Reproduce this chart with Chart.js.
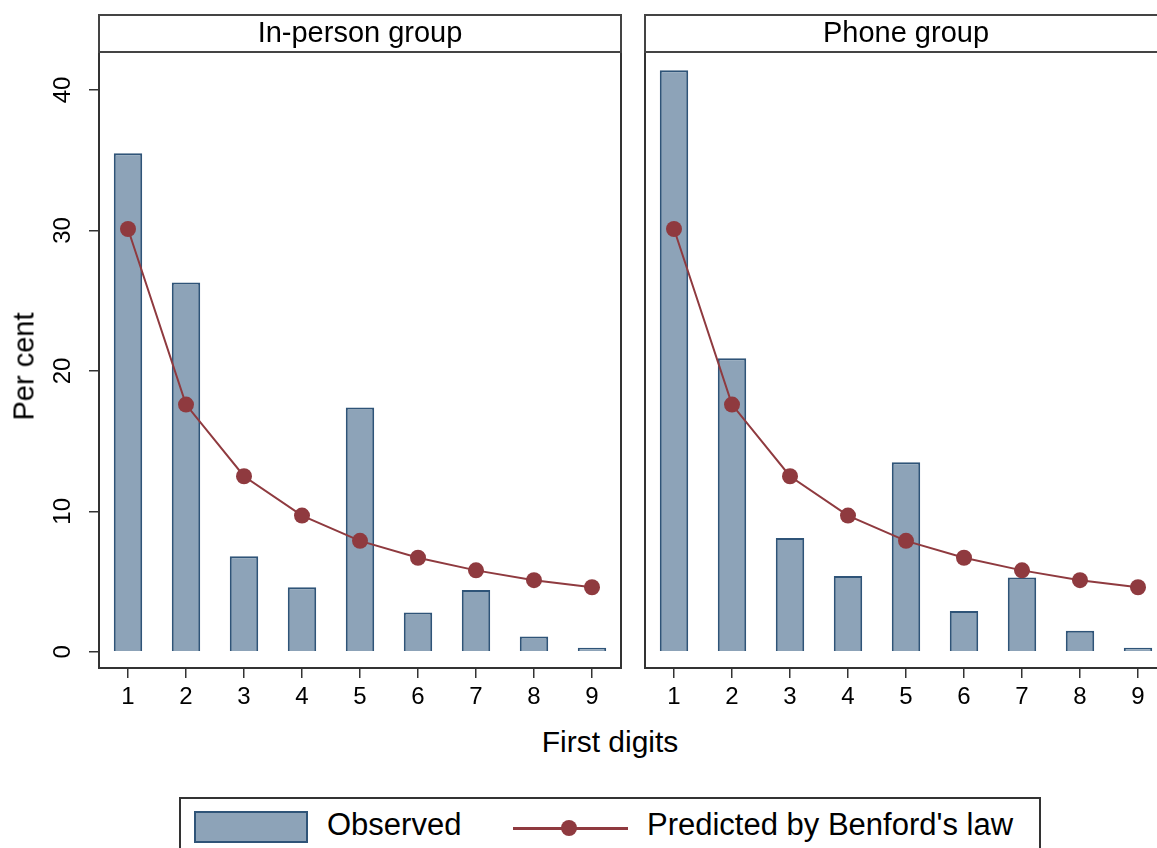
<!DOCTYPE html>
<html>
<head>
<meta charset="utf-8">
<script src="https://cdn.jsdelivr.net/npm/chart.js@4.4.1/dist/chart.umd.min.js"></script>
<style>
  body { margin: 0; background: #fff; width: 1157px; height: 848px; overflow: hidden; position: relative;
         font-family: "Liberation Sans", Arial, sans-serif; }
  canvas { position: absolute; }
  .txt { position: absolute; color: #000; white-space: nowrap; }
  #legend { position: absolute; left: 179px; top: 797px; width: 862px; height: 70px;
            border: 2px solid #333; box-sizing: border-box; }
  .swatch { position: absolute; left: 13px; top: 12px; width: 114px; height: 32px;
            background: #8da3b8; border: 2px solid #2f5478; box-sizing: border-box; }
  .lline { position: absolute; left: 332px; top: 28px; width: 115px; height: 2.5px; background: #8f3a3f; }
  .ldot { position: absolute; left: 380px; top: 21px; width: 16px; height: 16px; border-radius: 50%; background: #8f3a3f; }
</style>
</head>
<body>
<canvas id="left" width="640" height="720" style="left:0;top:0"></canvas>
<canvas id="right" width="570" height="720" style="left:630px;top:0"></canvas>
<div class="txt" style="left:0;width:1220px;text-align:center;top:725px;font-size:30px">First digits</div>
<div class="txt" style="left:-36px;top:350px;width:120px;text-align:center;font-size:29px;transform:rotate(-90deg)">Per cent</div>
<div id="legend">
  <div class="swatch"></div>
  <div class="txt" style="left:146px;top:8px;font-size:31px">Observed</div>
  <div class="lline"></div>
  <div class="ldot"></div>
  <div class="txt" style="left:466px;top:8px;font-size:31px">Predicted by Benford's law</div>
</div>
<script>
const digits = ["1", "2", "3", "4", "5", "6", "7", "8", "9"];
const inPerson = [35.5, 26.3, 6.8, 4.6, 17.4, 2.8, 4.4, 1.1, 0.3];
const phone = [41.4, 20.9, 8.1, 5.4, 13.5, 2.9, 5.3, 1.5, 0.3];
const benford = [30.1, 17.6, 12.5, 9.7, 7.9, 6.7, 5.8, 5.1, 4.6];
const yTicks = [0, 10, 20, 30, 40];

const barFill = "#8da3b8";
const barLine = "#2f5478";
const lineColor = "#8f3a3f";

// header strip, panel box and rotated y labels
const panelPlugin = {
  id: "panel",
  afterDraw(chart, args, opts) {
    const ctx = chart.ctx;
    const a = chart.chartArea;
    ctx.save();
    ctx.strokeStyle = "#333";
    ctx.lineWidth = 2;
    ctx.strokeRect(a.left, a.top, a.right - a.left, a.bottom - a.top);
    ctx.strokeStyle = "#444";
    ctx.strokeRect(a.left, 15, a.right - a.left, a.top - 15);
    ctx.fillStyle = "#000";
    ctx.font = "29px 'Liberation Sans', Arial, sans-serif";
    ctx.textAlign = "center";
    ctx.textBaseline = "middle";
    ctx.fillText(opts.title, (a.left + a.right) / 2, 34);
    if (opts.yLabels) {
      const y = chart.scales.y;
      ctx.font = "24px 'Liberation Sans', Arial, sans-serif";
      yTicks.forEach(v => {
        ctx.save();
        ctx.translate(a.left - 36, y.getPixelForValue(v));
        ctx.rotate(-Math.PI / 2);
        ctx.fillText(String(v), 0, 0);
        ctx.restore();
      });
    }
    ctx.restore();
  }
};

function makeChart(id, values, title, yLabels, yWidth, padRight) {
  return new Chart(document.getElementById(id), {
    type: "bar",
    data: {
      labels: digits,
      datasets: [
        {
          type: "line",
          label: "Predicted by Benford's law",
          data: benford,
          borderColor: lineColor,
          backgroundColor: lineColor,
          borderWidth: 2,
          pointRadius: 8,
          pointBorderWidth: 0,
          pointBackgroundColor: lineColor,
          tension: 0,
          order: 0,
        },
        {
          label: "Observed",
          data: values,
          backgroundColor: barFill,
          borderColor: barLine,
          borderWidth: 2,
          categoryPercentage: 1,
          barPercentage: 0.49,
          order: 1,
        },
      ],
    },
    options: {
      responsive: false,
      animation: false,
      layout: { padding: { top: 52, left: 0, right: padRight, bottom: 0 } },
      plugins: {
        legend: { display: false },
        tooltip: { enabled: false },
        panel: { title: title, yLabels: yLabels },
      },
      scales: {
        x: {
          offset: true,
          border: { display: false },
          grid: { offset: false, drawOnChartArea: false, drawTicks: true, tickLength: 10, color: "#333", lineWidth: 1.5 },
          ticks: { color: "#000", font: { size: 24, family: "'Liberation Sans', Arial, sans-serif" }, padding: 5, maxRotation: 0 },
          afterFit(s) { s.height = 52; },
        },
        y: {
          min: -1.15,
          max: 42.7,
          border: { display: false },
          grid: { drawOnChartArea: false, drawTicks: yLabels, tickLength: 10, color: "#333", lineWidth: 1.5 },
          ticks: { display: false },
          afterBuildTicks(s) { s.ticks = yTicks.map(v => ({ value: v })); },
          afterFit(s) { s.width = yWidth; },
        },
      },
    },
    plugins: [panelPlugin],
  });
}

makeChart("left", inPerson, "In-person group", true, 99, 19);
makeChart("right", phone, "Phone group", false, 15, 33);
</script>
</body>
</html>
